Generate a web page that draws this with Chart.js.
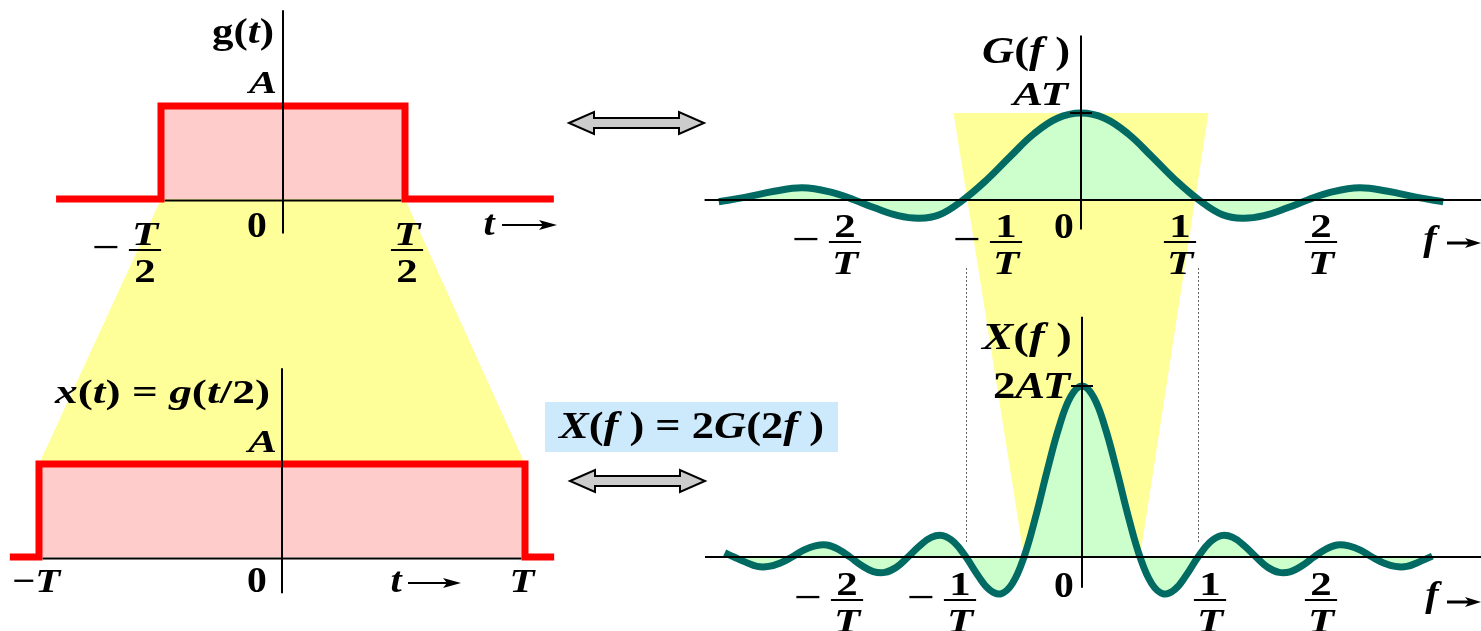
<!DOCTYPE html>
<html>
<head>
<meta charset="utf-8">
<title>Time scaling and the Fourier transform</title>
<script src="https://cdn.jsdelivr.net/npm/chart.js@4.4.1/dist/chart.umd.min.js"></script>
<style>
  html, body { margin: 0; padding: 0; background: #fff; }
  #box { position: relative; width: 1481px; height: 631px; }
</style>
</head>
<body>
<div id="box"><canvas id="myChart"></canvas></div>
<script>
// g(t): pulse of height A and width T (t in units of T, level in units of A)
let gTime = [-0.93, -0.5, -0.5, 0.5, 0.5, 1.11];
let gLevel = [0, 0, 1, 1, 0, 0];

// x(t) = g(t/2): same height, twice as wide
let xTime = [-1.12, -1, -1, 1, 1, 1.12];
let xLevel = [0, 0, 1, 1, 0, 0];

// G(f), f in units of 1/T, value in units of AT
let gFreq = [-3.07, -2.85, -2.6, -2.36, -2.12, -1.92, -1.75, -1.55, -1.37, -1.2, -1, -0.8, -0.6, -0.4, -0.2, 0,
             0.2, 0.4, 0.6, 0.8, 1, 1.2, 1.37, 1.55, 1.75, 1.92, 2.12, 2.36, 2.6, 2.85, 3.07];
let gSpec = [-0.02, 0.03, 0.10, 0.14, 0.09, 0, -0.09, -0.18, -0.21, -0.17, 0, 0.23, 0.50, 0.76, 0.94, 1,
             0.94, 0.76, 0.50, 0.23, 0, -0.17, -0.21, -0.18, -0.09, 0, 0.09, 0.14, 0.10, 0.03, -0.02];

// X(f) = 2G(2f)
let xFreq = [-3.08, -3, -2.9, -2.8, -2.7, -2.6, -2.5, -2.4, -2.3, -2.2, -2.1, -2, -1.9, -1.8, -1.7, -1.6,
             -1.5, -1.4, -1.3, -1.2, -1.1, -1, -0.9, -0.8, -0.7, -0.6, -0.5, -0.4, -0.3, -0.2, -0.1, 0,
             0.1, 0.2, 0.3, 0.4, 0.5, 0.6, 0.7, 0.8, 0.9, 1, 1.1, 1.2, 1.3, 1.4, 1.5, 1.6,
             1.7, 1.8, 1.9, 2, 2.1, 2.2, 2.3, 2.4, 2.5, 2.6, 2.7, 2.8, 2.9, 3.02];
let xSpec = [0.05, 0, -0.06, -0.11, -0.11, -0.07, 0, 0.08, 0.13, 0.14, 0.09, 0, -0.10, -0.17, -0.18, -0.12,
             0, 0.13, 0.23, 0.25, 0.17, 0, -0.21, -0.38, -0.43, -0.31, 0, 0.47, 1.01, 1.51, 1.87, 2,
             1.87, 1.51, 1.01, 0.47, 0, -0.31, -0.43, -0.38, -0.21, 0, 0.17, 0.25, 0.23, 0.13, 0, -0.12,
             -0.18, -0.17, -0.10, 0, 0.09, 0.14, 0.13, 0.08, 0, -0.07, -0.11, -0.11, -0.06, 0.01];

// tick values and their labels (_..._ marks italic)
let tlTicks = [-0.5, 0, 0.5];
let tlLabels = ['−_T_/2', '0', '_T_/2'];
let blTicks = [-1, 0, 1];
let blLabels = ['−_T_', '0', '_T_'];
let trTicks = [-2, -1, 0, 1, 2];
let trLabels = ['−2/_T_', '−1/_T_', '0', '1/_T_', '2/_T_'];
let brTicks = [-2, -1, 0, 1, 2];
let brLabels = ['−2/_T_', '−1/_T_', '0', '1/_T_', '2/_T_'];

// yellow bands: ends of the upper edge and of the lower edge
let leftBandTop = [-0.5, 0.5];      // g(t) panel, level 0
let leftBandBottom = [-1, 1];       // x(t) panel, level A
let rightBandTop = [-1.08, 1.08];   // G(f) panel, level AT
let rightBandBottom = [-0.5, 0.5];  // X(f) panel, level 0

// dotted guides at ±1/T in the X(f) panel
let guideFreq = [-1, 1];
let guideSpan = [0.16, 3.38];

const W = 1481, H = 631;

// where each panel sits: origin pixel, pixels per unit, axis extents in units
const panels = {
  TL: {ox: 283, oy: 199, kx: 244, ky: 93, h: [-0.485, 0.485], v: [-0.37, 2.03]},
  BL: {ox: 282, oy: 557, kx: 243, ky: 93, h: [-0.985, 0.985], v: [-0.39, 2.03]},
  TR: {ox: 1081, oy: 200, kx: 118, ky: 87, h: [-3.19, 3.4], v: [-0.34, 1.89]},
  BR: {ox: 1082, oy: 557, kx: 116, ky: 85.5, h: [-3.25, 3.45], v: [-0.36, 2.81]}
};

// the lettering is set wide, so text gets a horizontal stretch
const tickStyle = {
  TL: {ticks: tlTicks, labels: tlLabels, dx: [-16, -26, 2], bar: 51, base: 38, size: 33, stretch: 1.3},
  BL: {ticks: blTicks, labels: blLabels, dx: [-3, -25, -3], bar: 0, base: 35, size: 34, stretch: 1.2},
  TR: {ticks: trTicks, labels: trLabels, dx: [0, 43, -17, -19, 4], bar: 42, base: 38, size: 33, stretch: 1.3},
  BR: {ticks: brTicks, labels: brLabels, dx: [-3, -6, -18, 12, 7], bar: 43, base: 40, size: 33, stretch: 1.3}
};
const zeroStyle = {size: 36, stretch: 1.1};

const titles = [
  {k: 'TL', text: 'g(_t_)', dx: -9, dy: -156, size: 35, width: 62},
  {k: 'TL', text: '_A_', dx: -6, dy: -106, size: 32, width: 28},
  {k: 'BL', text: '_x_(_t_) = _g_(_t_/2)', dx: -12, dy: -154, size: 34, width: 215},
  {k: 'BL', text: '_A_', dx: -5, dy: -105, size: 32, width: 29},
  {k: 'TR', text: '_G_(_f_ )', dx: -11, dy: -137, size: 37, width: 88},
  {k: 'TR', text: '_AT_', dx: -13, dy: -95, size: 33, width: 55},
  {k: 'BR', text: '_X_(_f_ )', dx: -10, dy: -208, size: 37, width: 90},
  {k: 'BR', text: '2_AT_', dx: -12, dy: -159, size: 38, width: 77}
];

// variable names with their little arrows
const axisNames = [
  {text: '_t_', x: 489, y: 235, a1: 502, a2: 557, ay: 225, w: 2, head: 18, hh: 5},
  {text: '_t_', x: 396, y: 592, a1: 408, a2: 461, ay: 583, w: 2, head: 18, hh: 5},
  {text: '_f_', x: 1430, y: 250, a1: 1447, a2: 1481, ay: 243, w: 3, head: 16, hh: 5},
  {text: '_f_', x: 1432, y: 606, a1: 1447, a2: 1481, ay: 602, w: 3, head: 16, hh: 5}
];

const formulaBox = {x: 545, y: 402, w: 293, h: 50, text: '_X_(_f_ ) = 2_G_(2_f_ )', size: 37, width: 265, base: 36};
const bigArrows = [{x1: 569, x2: 704, y: 123}, {x1: 570, x2: 705, y: 481}];

const font = (italic, size) => (italic ? 'italic ' : '') + 'bold ' + size + 'px "Liberation Serif", serif';

function parts(str) {
  return str.split('_').map((s, i) => [s, i % 2 === 1]).filter(p => p[0].length);
}
function richWidth(ctx, str, size) {
  let w = 0;
  parts(str).forEach(p => { ctx.font = font(p[1], size); w += ctx.measureText(p[0]).width; });
  return w;
}
// draws mixed upright/italic text, stretched sideways by s
function drawRich(ctx, str, x, y, size, align, s) {
  s = s || 1;
  let w = richWidth(ctx, str, size) * s;
  let x0 = x;
  if (align === 'right') x0 = x - w;
  if (align === 'center') x0 = x - w / 2;
  ctx.save();
  ctx.translate(x0, y);
  ctx.scale(s, 1);
  let cx = 0;
  parts(str).forEach(p => {
    ctx.font = font(p[1], size);
    ctx.fillText(p[0], cx, 0);
    cx += ctx.measureText(p[0]).width;
  });
  ctx.restore();
}

function drawTick(ctx, label, cx, y0, st) {
  if (label === '0') {
    drawRich(ctx, label, cx, y0 + st.base, zeroStyle.size, 'center', zeroStyle.stretch);
    return;
  }
  if (label.indexOf('/') < 0) {
    drawRich(ctx, label, cx, y0 + st.base, st.size, 'center', st.stretch);
    return;
  }
  let sign = '';
  if (label[0] === '−') { sign = '−'; label = label.slice(1); }
  let [num, den] = label.split('/');
  let barY = y0 + st.bar;
  let w = Math.max(richWidth(ctx, num, st.size), richWidth(ctx, den, st.size)) * st.stretch + 6;
  drawRich(ctx, num, cx, barY - 5, st.size, 'center', st.stretch);
  drawRich(ctx, den, cx, barY + 32, st.size, 'center', st.stretch);
  ctx.fillRect(cx - w / 2, barY - 1, w, 2);
  if (sign) drawRich(ctx, sign, cx - w / 2 - 9, barY + st.size * 0.25, st.size, 'right', 1.5);
}

const X = (chart, k, v) => chart.scales['x' + k].getPixelForValue(v);
const Y = (chart, k, v) => chart.scales['y' + k].getPixelForValue(v);

function fillPoly(ctx, pts, color) {
  ctx.beginPath();
  pts.forEach((q, i) => i ? ctx.lineTo(q[0], q[1]) : ctx.moveTo(q[0], q[1]));
  ctx.closePath();
  ctx.fillStyle = color;
  ctx.fill();
}

function wideArrow(ctx, x1, x2, y) {
  let hl = 25, hh = 11, sh = 5;
  ctx.beginPath();
  ctx.moveTo(x1, y);
  ctx.lineTo(x1 + hl, y - hh);
  ctx.lineTo(x1 + hl, y - sh);
  ctx.lineTo(x2 - hl, y - sh);
  ctx.lineTo(x2 - hl, y - hh);
  ctx.lineTo(x2, y);
  ctx.lineTo(x2 - hl, y + hh);
  ctx.lineTo(x2 - hl, y + sh);
  ctx.lineTo(x1 + hl, y + sh);
  ctx.lineTo(x1 + hl, y + hh);
  ctx.closePath();
  ctx.fillStyle = '#cccccc';
  ctx.fill();
  ctx.lineWidth = 2;
  ctx.strokeStyle = '#000';
  ctx.stroke();
}

function lineArrow(ctx, a) {
  ctx.lineWidth = a.w;
  ctx.beginPath();
  ctx.moveTo(a.a1, a.ay);
  ctx.lineTo(a.a2 - a.head + 4, a.ay);
  ctx.stroke();
  ctx.beginPath();
  ctx.moveTo(a.a2, a.ay);
  ctx.lineTo(a.a2 - a.head, a.ay - a.hh);
  ctx.lineTo(a.a2 - a.head + 4, a.ay);
  ctx.lineTo(a.a2 - a.head, a.ay + a.hh);
  ctx.closePath();
  ctx.fill();
}

const diagram = {
  id: 'diagram',
  beforeDatasetsDraw(chart) {
    let ctx = chart.ctx;
    ctx.save();
    fillPoly(ctx, [
      [X(chart, 'TL', leftBandTop[0]), Y(chart, 'TL', 0)],
      [X(chart, 'TL', leftBandTop[1]), Y(chart, 'TL', 0)],
      [X(chart, 'BL', leftBandBottom[1]), Y(chart, 'BL', 1)],
      [X(chart, 'BL', leftBandBottom[0]), Y(chart, 'BL', 1)]
    ], '#ffff99');
    fillPoly(ctx, [
      [X(chart, 'TR', rightBandTop[0]), Y(chart, 'TR', 1)],
      [X(chart, 'TR', rightBandTop[1]), Y(chart, 'TR', 1)],
      [X(chart, 'BR', rightBandBottom[1]), Y(chart, 'BR', 0)],
      [X(chart, 'BR', rightBandBottom[0]), Y(chart, 'BR', 0)]
    ], '#ffff99');

    ctx.strokeStyle = '#666';
    ctx.lineWidth = 1;
    ctx.setLineDash([2, 2]);
    guideFreq.forEach(f => {
      let x = Math.round(X(chart, 'BR', f)) + 0.5;
      ctx.beginPath();
      ctx.moveTo(x, Y(chart, 'BR', guideSpan[1]));
      ctx.lineTo(x, Y(chart, 'BR', guideSpan[0]));
      ctx.stroke();
    });
    ctx.restore();
  },
  afterDatasetsDraw(chart) {
    let ctx = chart.ctx;
    ctx.save();
    ctx.strokeStyle = '#000';
    ctx.fillStyle = '#000';
    ctx.lineWidth = 2;

    // axes
    Object.keys(panels).forEach(k => {
      let p = panels[k];
      let y0 = Y(chart, k, 0), x0 = X(chart, k, 0);
      let off = (k === 'TL' || k === 'BL') ? 1.5 : 0;
      ctx.beginPath();
      ctx.moveTo(X(chart, k, p.h[0]), y0 + off);
      ctx.lineTo(X(chart, k, p.h[1]), y0 + off);
      ctx.moveTo(x0, Y(chart, k, p.v[0]));
      ctx.lineTo(x0, Y(chart, k, p.v[1]));
      ctx.stroke();
    });

    // peak marks for AT and 2AT
    [['TR', 1], ['BR', 2]].forEach(m => {
      let x0 = X(chart, m[0], 0), y = Y(chart, m[0], m[1]);
      ctx.beginPath();
      ctx.moveTo(x0 - 11, y);
      ctx.lineTo(x0 + 11, y);
      ctx.stroke();
    });

    // tick labels
    ctx.textBaseline = 'alphabetic';
    Object.keys(tickStyle).forEach(k => {
      let st = tickStyle[k];
      let y0 = Y(chart, k, 0);
      st.ticks.forEach((v, i) => drawTick(ctx, st.labels[i], X(chart, k, v) + st.dx[i], y0, st));
    });

    // panel titles and level labels
    titles.forEach(t => {
      let s = t.width / richWidth(ctx, t.text, t.size);
      drawRich(ctx, t.text, X(chart, t.k, 0) + t.dx, Y(chart, t.k, 0) + t.dy, t.size, 'right', s);
    });

    axisNames.forEach(a => {
      drawRich(ctx, a.text, a.x, a.y, 35, 'center', 1.15);
      lineArrow(ctx, a);
    });

    // relation between the two spectra
    let fb = formulaBox;
    ctx.fillStyle = '#cceafc';
    ctx.fillRect(fb.x, fb.y, fb.w, fb.h);
    ctx.fillStyle = '#000';
    drawRich(ctx, fb.text, fb.x + fb.w / 2, fb.y + fb.base, fb.size, 'center', fb.width / richWidth(ctx, fb.text, fb.size));

    bigArrows.forEach(a => wideArrow(ctx, a.x1, a.x2, a.y));
    ctx.restore();
  }
};

const scales = {};
Object.keys(panels).forEach(k => {
  let p = panels[k];
  scales['x' + k] = {type: 'linear', display: false, bounds: 'data', min: -p.ox / p.kx, max: (W - p.ox) / p.kx};
  scales['y' + k] = {type: 'linear', display: false, bounds: 'data', min: -(H - p.oy) / p.ky, max: p.oy / p.ky};
});

const pts = (xs, ys) => xs.map((x, i) => ({x: x, y: ys[i]}));

let ctx = document.getElementById('myChart').getContext('2d');
let myChart = new Chart(ctx, {
  type: 'line',
  data: {
    datasets: [
      {data: pts(gTime, gLevel), xAxisID: 'xTL', yAxisID: 'yTL', borderColor: '#ff0000', borderWidth: 7,
       backgroundColor: '#ffcccc', fill: 'origin', tension: 0, borderJoinStyle: 'miter'},
      {data: pts(xTime, xLevel), xAxisID: 'xBL', yAxisID: 'yBL', borderColor: '#ff0000', borderWidth: 7,
       backgroundColor: '#ffcccc', fill: 'origin', tension: 0, borderJoinStyle: 'miter'},
      {data: pts(gFreq, gSpec), xAxisID: 'xTR', yAxisID: 'yTR', borderColor: '#006a63', borderWidth: 7,
       backgroundColor: '#ccffcc', fill: 'origin', tension: 0.4},
      {data: pts(xFreq, xSpec), xAxisID: 'xBR', yAxisID: 'yBR', borderColor: '#006a63', borderWidth: 7,
       backgroundColor: '#ccffcc', fill: 'origin', tension: 0.4}
    ]
  },
  options: {
    responsive: true,
    maintainAspectRatio: false,
    animation: false,
    events: [],
    layout: {padding: 0},
    elements: {point: {radius: 0}},
    plugins: {legend: {display: false}, tooltip: {enabled: false}},
    scales: scales
  },
  plugins: [diagram]
});
</script>
</body>
</html>
